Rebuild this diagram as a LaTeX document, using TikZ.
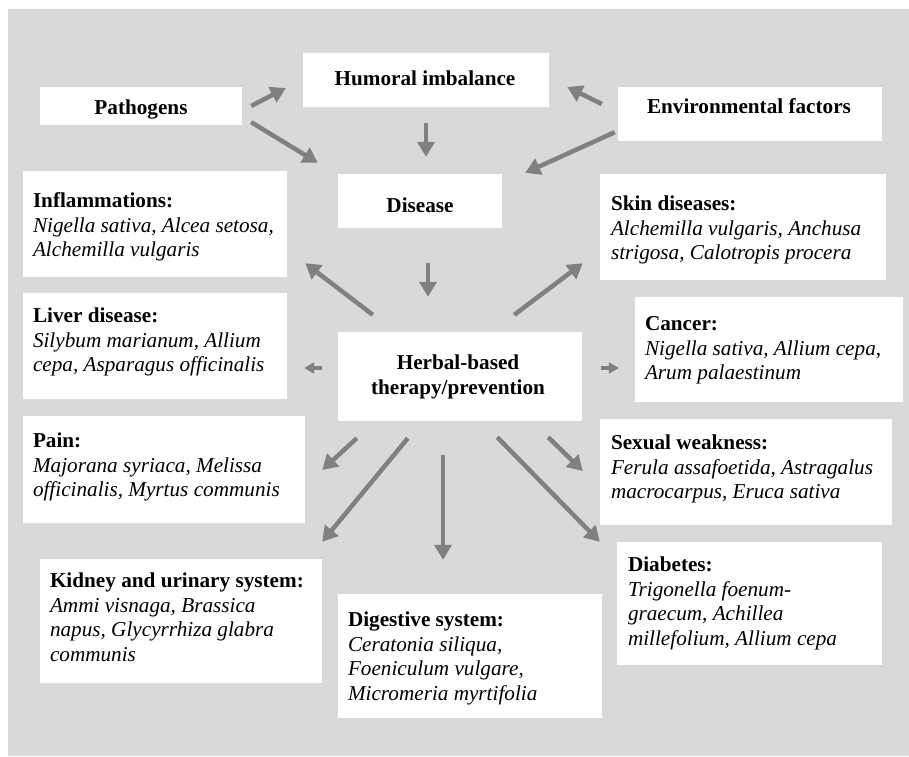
\documentclass[tikz,border=0pt]{standalone}
\usepackage{fontspec}
\setmainfont{Liberation Serif}
\usetikzlibrary{arrows.meta}
\definecolor{panel}{RGB}{217,217,217}
\definecolor{arrowgray}{RGB}{128,128,128}
% multi-line nodes sit on the baseline of their last line
\tikzset{
  box/.style={fill=white, draw=none, inner sep=0pt},
  txt/.style={inner sep=0pt, align=left, anchor=base west,
    font=\fontsize{21.2}{24.4}\selectfont},
  ctxt/.style={inner sep=0pt, align=center, anchor=base,
    font=\fontsize{21.2}{24.4}\selectfont\bfseries},
  arr/.style={draw=arrowgray, line width=4.5pt,
    -{Triangle[length=15pt,width=17pt]}},
  smallarr/.style={draw=arrowgray, line width=4pt,
    -{Triangle[length=10pt,width=11pt]}}
}
\begin{document}
\begin{tikzpicture}[x=1pt,y=-1pt]
\useasboundingbox (0,0) rectangle (909,756);
\fill[panel] (8,9) rectangle (909,756);

% ---- boxes ----
\node[box, minimum width=202pt, minimum height=38pt]  (pat)   at (141,106)   {};
\node[box, minimum width=246pt, minimum height=54pt]  (hum)   at (426,80)    {};
\node[box, minimum width=264pt, minimum height=54pt]  (env)   at (750,114)   {};
\node[box, minimum width=164pt, minimum height=54pt]  (dis)   at (420,201)   {};
\node[box, minimum width=244pt, minimum height=89pt]  (herb)  at (460,376.5) {};
\node[box, minimum width=264pt, minimum height=106pt] (infl)  at (155,224)   {};
\node[box, minimum width=264pt, minimum height=106pt] (liver) at (155,346)   {};
\node[box, minimum width=282pt, minimum height=107pt] (pain)  at (164,469.5) {};
\node[box, minimum width=282pt, minimum height=124pt] (kid)   at (181,621)   {};
\node[box, minimum width=264pt, minimum height=124pt] (dig)   at (470,656)   {};
\node[box, minimum width=265pt, minimum height=123pt] (diab)  at (749.5,603.5) {};
\node[box, minimum width=292pt, minimum height=106pt] (sex)   at (746,472)   {};
\node[box, minimum width=286pt, minimum height=106pt] (skin)  at (743,227)   {};
\node[box, minimum width=268pt, minimum height=105pt] (canc)  at (769,349.5) {};

% ---- centred labels ----
\node[ctxt] (patT)  at (141,114) {Pathogens};
\node[ctxt] (humT)  at (425,85)  {Humoral imbalance};
\node[ctxt] (envT)  at (749,113) {Environmental factors};
\node[ctxt] (disT)  at (420,212) {Disease};
\node[ctxt] (herbT) at (458,394) {Herbal-based\\therapy/prevention};

% ---- indication lists ----
\node[txt] (inflT) at ([shift={(10,85.8)}]infl.north west)
  {\textbf{Inflammations:}\\\textit{Nigella sativa, Alcea setosa,}\\\textit{Alchemilla vulgaris}};
\node[txt] (liverT) at ([shift={(10,78.8)}]liver.north west)
  {\textbf{Liver disease:}\\\textit{Silybum marianum, Allium}\\\textit{cepa, Asparagus officinalis}};
\node[txt] (painT) at ([shift={(10,80.8)}]pain.north west)
  {\textbf{Pain:}\\\textit{Majorana syriaca, Melissa}\\\textit{officinalis, Myrtus communis}};
\node[txt] (kidT) at ([shift={(10,102.2)}]kid.north west)
  {\textbf{Kidney and urinary system:}\\\textit{Ammi visnaga, Brassica}\\\textit{napus, Glycyrrhiza glabra}\\\textit{communis}};
\node[txt] (digT) at ([shift={(10,106.2)}]dig.north west)
  {\textbf{Digestive system:}\\\textit{Ceratonia siliqua,}\\\textit{Foeniculum vulgare,}\\\textit{Micromeria myrtifolia}};
\node[txt] (diabT) at ([shift={(11,103.2)}]diab.north west)
  {\textbf{Diabetes:}\\\textit{Trigonella foenum-}\\\textit{graecum, Achillea}\\\textit{millefolium, Allium cepa}};
\node[txt] (sexT) at ([shift={(11,79.8)}]sex.north west)
  {\textbf{Sexual weakness:}\\\textit{Ferula assafoetida, Astragalus}\\\textit{macrocarpus, Eruca sativa}};
\node[txt] (skinT) at ([shift={(11,85.8)}]skin.north west)
  {\textbf{Skin diseases:}\\\textit{Alchemilla vulgaris, Anchusa}\\\textit{strigosa, Calotropis procera}};
\node[txt] (cancT) at ([shift={(10,82.8)}]canc.north west)
  {\textbf{Cancer:}\\\textit{Nigella sativa, Allium cepa,}\\\textit{Arum palaestinum}};

% ---- connectors ----
\draw[arr] ([shift={(9,0)}]pat.east) -- ([shift={(-17,8)}]hum.west);
\draw[arr] ([shift={(9,-3)}]pat.south east) -- ([shift={(-20,-11)}]dis.north west);
\draw[arr] ([shift={(-16,-10)}]env.west) -- ([shift={(18,7)}]hum.east);
\draw[arr] ([shift={(-3,-9)}]env.south west) -- ([shift={(23,-1)}]dis.north east);
\draw[arr] ([shift={(0,16)}]hum.south) -- ([shift={(6,-17)}]dis.north);
\draw[arr] ([shift={(8,35)}]dis.south) -- ([shift={(-32,-35)}]herb.north);
\draw[arr] ([shift={(35,-17)}]herb.north west) -- ([shift={(18,-14)}]infl.south east);
\draw[arr] ([shift={(-68,-17)}]herb.north east) -- ([shift={(-17,-17)}]skin.south west);
\draw[smallarr] ([shift={(-16,-8.5)}]herb.west) -- ([shift={(17,22)}]liver.east);
\draw[smallarr] ([shift={(19,-8.5)}]herb.east) -- ([shift={(-16,18.5)}]canc.west);
\draw[arr] ([shift={(19,17)}]herb.south west) -- ([shift={(17,0.5)}]pain.east);
\draw[arr] ([shift={(70,17)}]herb.south west) -- ([shift={(0,-17)}]kid.north east);
\draw[arr] ([shift={(-17,34)}]herb.south) -- ([shift={(-27,-34)}]dig.north);
\draw[arr] ([shift={(-34,16)}]herb.south east) -- ([shift={(-17,-1)}]sex.west);
\draw[arr] ([shift={(-85,16)}]herb.south east) -- ([shift={(-17,0)}]diab.north west);
\end{tikzpicture}
\end{document}
